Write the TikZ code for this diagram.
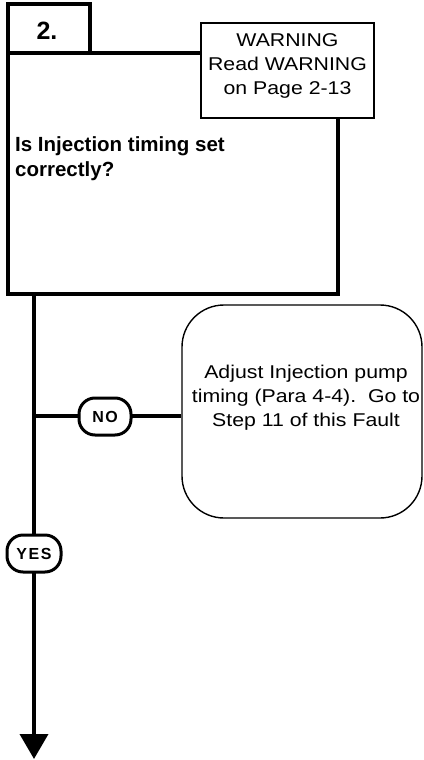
\documentclass[tikz,border=0pt]{standalone}
\usepackage{fontspec}
\setmainfont{Liberation Sans}
\newfontfamily\widesans[FakeStretch=1.15]{Liberation Sans}
\usetikzlibrary{arrows.meta}
\tikzset{
  thick line/.style={line width=3.8pt},
  thin box/.style={draw, line width=1.4pt, fill=white},
  pill/.style={draw, line width=3pt, rounded corners=16pt, fill=white, inner sep=0pt,
    font=\bfseries\fontsize{16}{16}\selectfont},
  plain text/.style={align=center, inner sep=0pt, font=\widesans\fontsize{18.5}{24}\selectfont},
}
\begin{document}
\begin{tikzpicture}[x=1pt,y=-1pt]
\useasboundingbox (0,0) rectangle (423,760);
% main step box and tab
\draw[thick line] (8,53) rectangle (338,294);
\draw[thick line] (8,4) rectangle (90,53);
\node[font=\bfseries\fontsize{25}{25}\selectfont, inner sep=0pt] (num) at (47,31) {2.};
% warning box
\node[thin box, minimum width=173pt, minimum height=95pt, inner sep=0pt] (warn) at (287.5,70.5) {};
\node[plain text] (warntext) at (287.5,65.5) {WARNING\\Read WARNING\\on Page 2-13};
% question
\node[anchor=north west, align=left, inner sep=0pt, font=\bfseries\fontsize{20.5}{25}\selectfont] (q) at (15,136) {Is Injection timing set\\correctly?};
% adjust box
\node[draw, line width=1.4pt, rounded corners=42pt, minimum width=240pt, minimum height=213pt] (adj) at (302,411.5) {};
\node[plain text] (adjtext) at (306,397.5) {Adjust Injection pump\\timing (Para 4-4).~~Go to\\Step 11 of this Fault};
% connectors
\coordinate (top) at (34,294);
\coordinate (junc) at (34,416);
\coordinate (endpt) at (34,759);
\draw[thick line] (junc) -- (junc -| adj.west);
\draw[thick line, -{Triangle[width=28pt,length=25pt]}] (top) -- (endpt);
\node[pill, minimum width=52pt, minimum height=37pt] (no) at (105,416.5) {N\kern1.5pt O};
\node[pill, minimum width=54pt, minimum height=37pt] (yes) at (34,553.5) {Y\kern1.5pt E\kern1.5pt S};
\end{tikzpicture}
\end{document}
